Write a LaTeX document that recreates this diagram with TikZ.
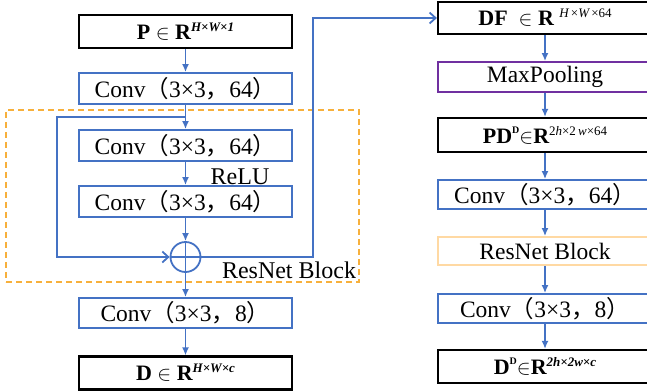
\documentclass[tikz,border=0pt]{standalone}
\usepackage{fontspec}
\setmainfont{Liberation Serif}
\newfontfamily\cjk{Noto Sans CJK SC}
\usetikzlibrary{arrows.meta}
\definecolor{cblue}{HTML}{4472C4}
\definecolor{corange}{HTML}{F7B03C}
\definecolor{clorange}{HTML}{FFD9A3}
\definecolor{cpurple}{HTML}{7030A0}
\newcommand\SupT[1]{\raisebox{8pt}{\fontsize{13}{13}\selectfont #1}}
\newcommand\SupS[1]{\raisebox{10pt}{\fontsize{10}{10}\selectfont #1}}
\newcommand\convtxt[1]{Conv{\cjk （}3×3{\cjk ，}#1{\cjk ）}}
\begin{document}
\begin{tikzpicture}[x=1pt,y=-1pt,
  box/.style={draw, rectangle, fill=white, inner sep=0pt, font=\fontsize{23.5}{26}\selectfont},
  lbox/.style={box, minimum width=213pt},
  rbox/.style={box, minimum width=214pt},
  bluec/.style={draw=cblue, line width=1.8pt},
  blackc/.style={draw=black, line width=2.2pt, font=\fontsize{22}{26}\selectfont},
  arr/.style={draw=cblue, line width=1.8pt, -{Latex[length=8pt,width=7pt]}},
  barb/.style={draw=cblue, line width=1.8pt, -{Straight Barb[length=6pt,width=11pt]}},
  ln/.style={draw=cblue, line width=1.8pt},
  lbl/.style={font=\fontsize{24}{26}\selectfont, inner sep=0pt}
]
\useasboundingbox (0,0) rectangle (647,391);
\clip (0,0) rectangle (647,391);

% ResNet block frame
\node[draw=corange, dash pattern=on 6pt off 4pt, line width=1.2pt, minimum width=353pt, minimum height=172pt, inner sep=0pt] (frame) at (182.5,196) {};

% left column
\node[lbox, blackc, minimum height=33pt] (P) at (185.5,31.5) {{\bfseries P} $\in$ {\bfseries R}\SupT{\bfseries\itshape H×W×1}};
\node[lbox, bluec, minimum height=31pt] (C1) at (185.5,88.5) {\convtxt{64}};
\node[lbox, bluec, minimum height=31pt] (C2) at (185.5,145.5) {\convtxt{64}};
\node[lbox, bluec, minimum height=31pt] (C3) at (185.5,201.5) {\convtxt{64}};
\node[circle, draw=cblue, line width=1.8pt, minimum size=30pt, inner sep=0pt] (plus) at (185.5,257) {};
\draw[ln] (plus.north) -- (plus.south);
\draw[ln] (plus.west) -- (plus.east);
\node[lbox, bluec, minimum height=30pt] (C4) at (185.5,313) {\convtxt{8}};
\node[lbox, blackc, minimum height=33pt] (D) at (185.5,373) {{\bfseries D} $\in$ {\bfseries R}\SupT{\bfseries\itshape H×W×c}};

\node[lbl] (relu) at (240,177) {ReLU};
\node[lbl] (rblabel) at (289,270) {ResNet Block};

% right column
\node[rbox, blackc, minimum height=32pt] (DF) at (545,18) {{\bfseries DF}\ \ $\in$ {\bfseries R}\ \SupT{\itshape H\upshape\,×\itshape W\upshape\,×64}};
\node[rbox, draw=cpurple, line width=1.8pt, minimum height=30pt] (MP) at (545,77) {MaxPooling};
\node[rbox, blackc, minimum height=34pt] (PD) at (545,135) {{\bfseries PD}\SupS{\bfseries D}$\in${\bfseries R}\SupT{2\itshape h\upshape×2\,\itshape w\upshape×64}};
\node[rbox, bluec, minimum height=29pt] (C5) at (545,194.5) {\convtxt{64}};
\node[rbox, draw=clorange, line width=1.8pt, minimum height=28pt] (RB) at (545,251) {ResNet Block};
\node[rbox, bluec, minimum height=29pt] (C6) at (545,308.5) {\convtxt{8}};
\node[rbox, blackc, minimum height=33pt] (DD) at (545,366.5) {{\bfseries D}\SupS{\bfseries D}$\in${\bfseries R}\SupT{\bfseries\itshape 2h×2w×c}};

% connectors left
\draw[arr] (P) -- (C1);
\coordinate (j) at (185.5,117);
\draw[arr] (C1) -- (C2);
\draw[arr] (C2) -- (C3);
\draw[arr] (C3) -- (plus);
\draw[arr] (plus) -- (C4);
\draw[arr] (C4) -- (D);
\coordinate (sk) at (57,117);
\draw[barb] (j) -- (sk) |- (plus.west);
\coordinate (up) at (313,257);
\draw[barb] (plus.east) -- (up) |- (DF.west);

% connectors right
\draw[arr] (DF) -- (MP);
\draw[arr] (MP) -- (PD);
\draw[arr] (PD) -- (C5);
\draw[arr] (C5) -- (RB);
\draw[arr] (RB) -- (C6);
\draw[arr] (C6) -- (DD);
\end{tikzpicture}
\end{document}
